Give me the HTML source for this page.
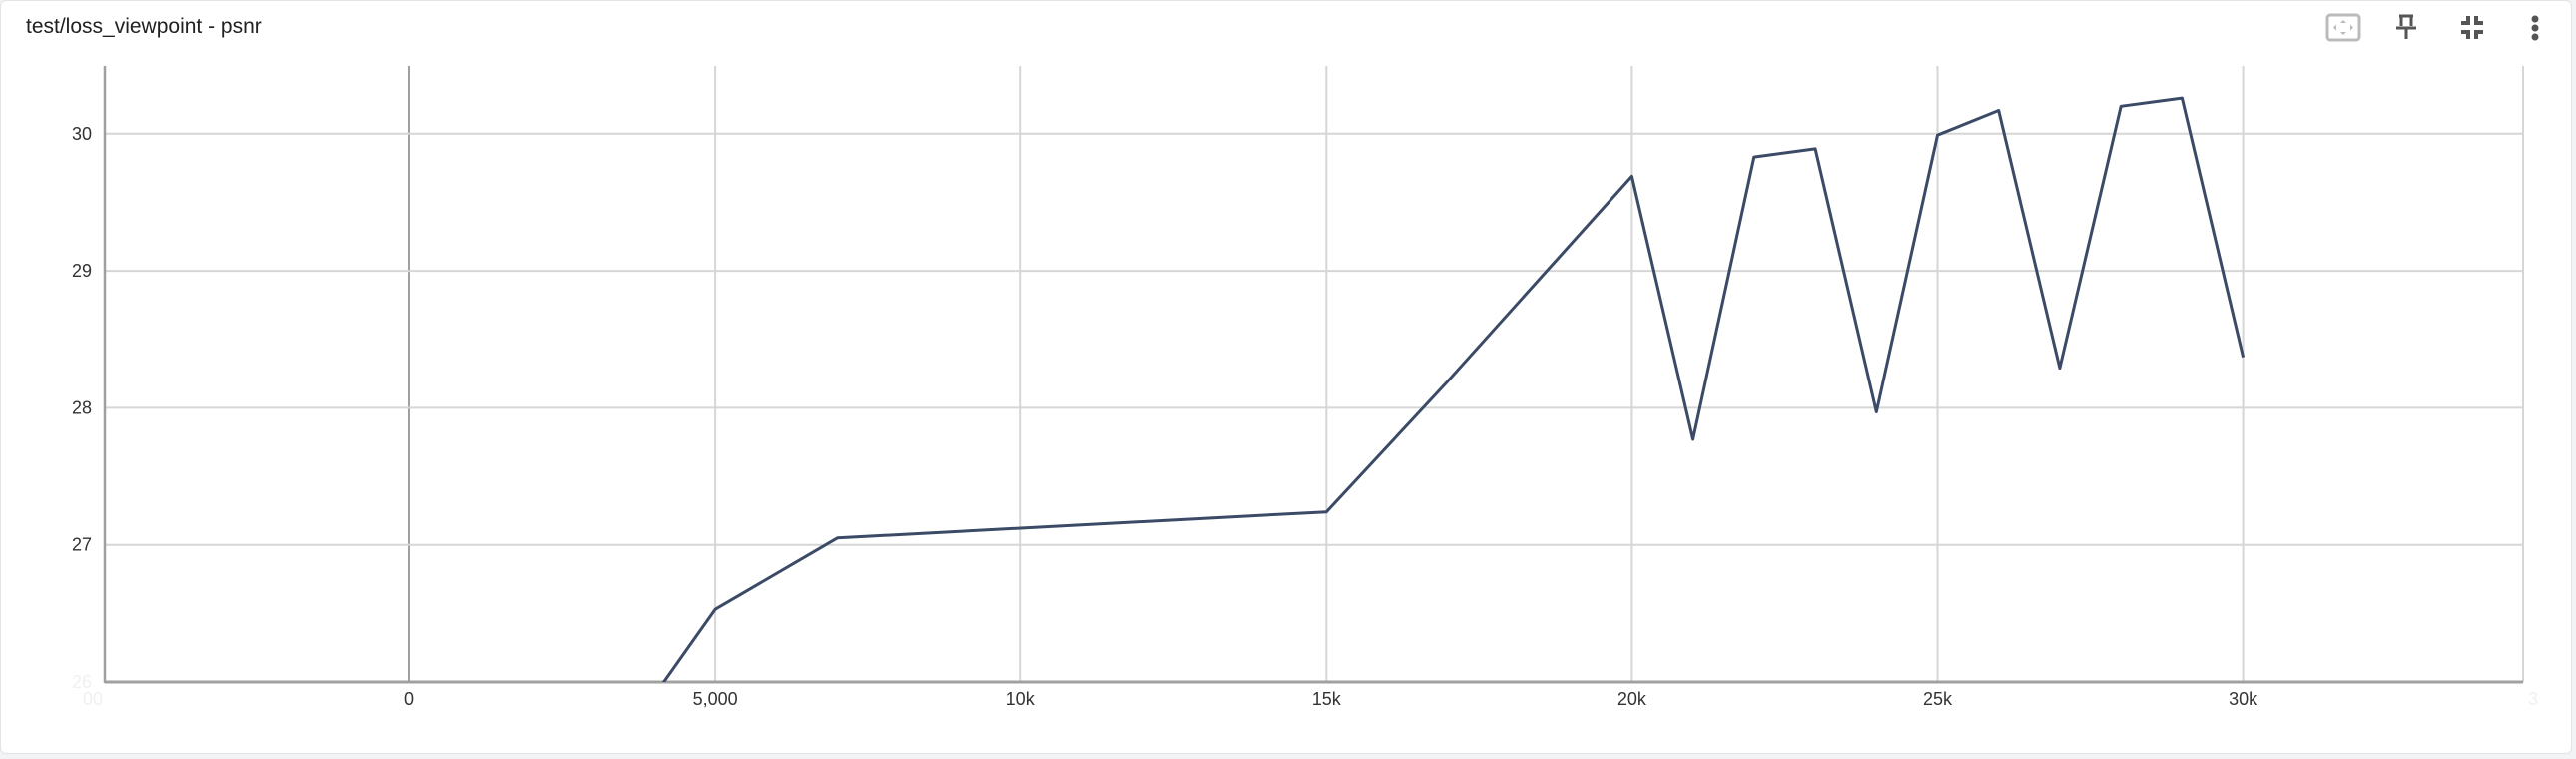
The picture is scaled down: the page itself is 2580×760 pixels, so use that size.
<!DOCTYPE html>
<html><head><meta charset="utf-8">
<style>
html,body{margin:0;padding:0;background:#f1f3f4;}
body{width:2580px;height:760px;overflow:hidden;font-family:"Liberation Sans",sans-serif;}
#card{position:absolute;left:0;top:0;width:2576px;height:755px;background:#fff;border:1px solid #e3e3e3;border-radius:6px;box-sizing:border-box;}
#title{position:absolute;left:25px;top:14px;font-size:21px;color:#212121;}
svg{position:absolute;left:0;top:0;}
</style></head><body>
<div id="card">
<div id="title">test/loss_viewpoint - psnr</div>
</div>
<svg id="chart" width="2580" height="760">
<g>
 <g>
  <rect x="2331" y="15" width="32" height="25" rx="3" fill="none" stroke="#bbb" stroke-width="3"/>
  <path d="M2347 20l-3 3h6z M2347 35l-3-3h6z M2337 27.5l3-3v6z M2357 27.5l-3-3v6z" fill="#bbb"/>
 </g>
 <g stroke="#555" stroke-width="3" fill="none">
  <path d="M2403 16h14 M2405 16v10 M2415 16v10 M2400 28h20 M2410 28v11"/>
 </g>
 <g stroke="#555" stroke-width="4" fill="none">
  <path d="M2465 23h7v-7 M2480 16v7h7 M2465 32h7v7 M2480 39v-7h7"/>
 </g>
 <g fill="#555">
  <circle cx="2539" cy="19" r="3.5"/><circle cx="2539" cy="28" r="3.5"/><circle cx="2539" cy="37" r="3.5"/>
 </g>
</g>
<g id="grid"></g>
<g id="axes"></g>
<g id="series"></g>
</svg>
<script>
const xTicks=[-5000,0,5000,10000,15000,20000,25000,30000,35000];
const xTickLabels=["-5,000","0","5,000","10k","15k","20k","25k","30k","35k"];
const yTicks=[26,27,28,29,30];
const yTickLabels=["26","27","28","29","30"];
const steps=[4000,5000,7000,15000,17000,20000,21000,22000,23000,24000,25000,26000,27000,28000,29000,30000];
const psnr=[25.9,26.53,27.05,27.24,28.2,29.69,27.77,29.83,29.89,27.97,29.99,30.17,28.29,30.2,30.26,28.37];
const L=105,R=2527,T=66,B=683;
const yMin=26;
const sx=v=>410+(v)*(306.1/5000);
const sy=v=>B-(v-yMin)*(137.3);
const NS="http://www.w3.org/2000/svg";
function mk(tag,attrs,parent){const e=document.createElementNS(NS,tag);for(const k in attrs)e.setAttribute(k,attrs[k]);parent.appendChild(e);return e;}
const grid=document.getElementById('grid'),axes=document.getElementById('axes'),series=document.getElementById('series');
xTicks.forEach((t,i)=>{
 const x=sx(t);
 const faded=(x<L||x>R-5);
 if(!faded){
  const ln=mk('line',{x1:x,x2:x,y1:T,y2:B,stroke:t===0?'#a0a0a0':'#d6d6d6','stroke-width':2},grid);
  
  
 }
 const tx=mk('text',{x:faded?(x<L?L-12:R+10):x,y:706,'text-anchor':'middle','font-size':18,fill:faded?'#f0f0f0':'#333'},axes);
 tx.textContent=faded?(x<L?"00":"3"):xTickLabels[i];
 
 
});
yTicks.forEach((t,i)=>{
 const y=sy(t);
 if(t>yMin){
  const ln=mk('line',{x1:L,x2:R,y1:y,y2:y,stroke:'#d6d6d6','stroke-width':2},grid);
  
  
 }
 const tx=mk('text',{x:92,y:y+6,'text-anchor':'end','font-size':18,fill:t===yMin?'#f0f0f0':'#333'},axes);
 tx.textContent=yTickLabels[i];
 
 
});
const yl=mk('line',{x1:L,x2:L,y1:T,y2:B+1,stroke:'#a0a0a0','stroke-width':2.5},axes);


const xl=mk('line',{x1:L,x2:R,y1:B,y2:B,stroke:'#a0a0a0','stroke-width':3},axes);


const rl=mk('line',{x1:R,x2:R,y1:T,y2:B,stroke:'#d6d6d6','stroke-width':2},grid);


const defs=mk('defs',{},series);
const cp=mk('clipPath',{id:'clip'},defs);
mk('rect',{x:L,y:T,width:R-L,height:B-T},cp);
const d=steps.map((s,i)=>(i?'L':'M')+sx(s).toFixed(1)+' '+sy(psnr[i]).toFixed(1)).join(' ');
const p=mk('path',{d:d,fill:'none',stroke:'#3b4a66','stroke-width':3,'stroke-linejoin':'round','clip-path':'url(#clip)'},series);


</script>
</body></html>
